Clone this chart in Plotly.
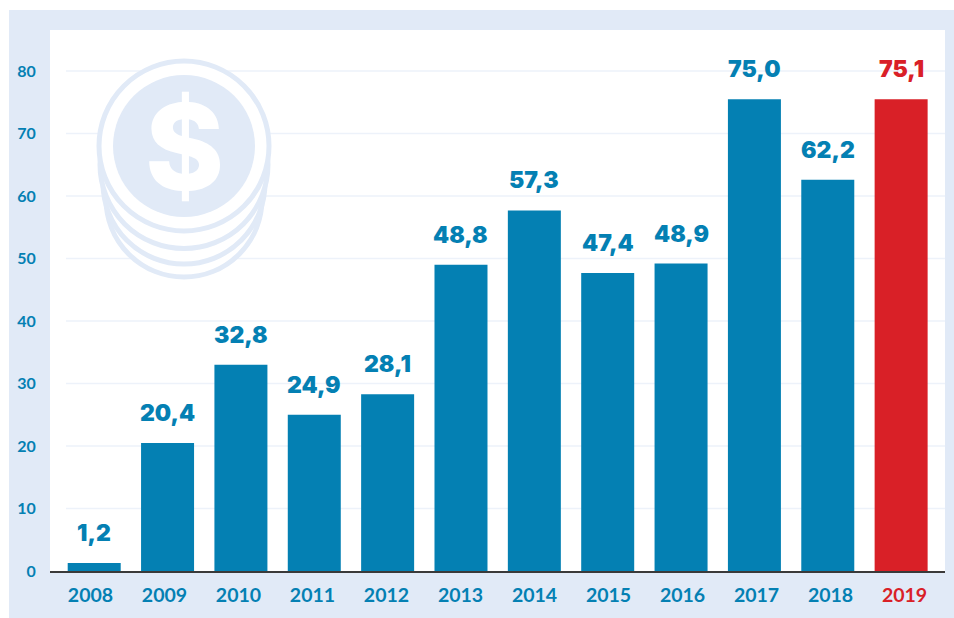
import plotly.graph_objects as go

years = ["2008","2009","2010","2011","2012","2013","2014","2015","2016","2017","2018","2019"]
bar_heights = [1.28,20.5,33.0,25.0,28.3,49.0,57.7,47.7,49.2,75.5,62.6,75.5]
value_labels = ["1,2","20,4","32,8","24,9","28,1","48,8","57,3","47,4","48,9","75,0","62,2","75,1"]
y_ticks = [0,10,20,30,40,50,60,70,80]

BLUE = "#0480b3"
RED = "#d92027"
FRAME = "#e1eaf7"
GRID = "#edf2fa"
W, H = 954, 618
L, R, T, B = 50, 945, 30, 571
colors = [RED if y == "2019" else BLUE for y in years]

def px(x): return (x - L) / (R - L)
def py(y): return (B - y) / (B - T)

shapes = [
    dict(type="rect", xref="paper", yref="paper", x0=px(9), x1=px(W), y0=py(H), y1=py(10),
         fillcolor=FRAME, line_width=0, layer="below"),
    dict(type="rect", xref="paper", yref="paper", x0=0, x1=1, y0=0, y1=1,
         fillcolor="white", line_width=0, layer="below"),
]
for t in y_ticks[1:]:
    shapes.append(dict(type="line", xref="paper", yref="y", x0=px(66), x1=1, y0=t, y1=t,
                       line=dict(color=GRID, width=1.5), layer="below"))

def circle(cx, cy, r, fill, stroke=None, sw=0):
    return dict(type="circle", xref="paper", yref="paper",
                x0=px(cx-r), x1=px(cx+r), y0=py(cy+r), y1=py(cy-r),
                fillcolor=fill, line=dict(color=stroke or fill, width=sw), layer="below")

for cy, r in [(199, 78), (183, 81), (164.5, 84), (146, 85)]:
    shapes.append(circle(184, cy, r, "white", FRAME, 5))
shapes.append(circle(184, 146, 71, FRAME))

annotations = [dict(x=px(184), y=py(146), xref="paper", yref="paper", text="$", showarrow=False,
                    font=dict(family="Inter", size=120, color="white", weight=800),
                    xanchor="center", yanchor="middle")]
for i, (h, lab, c) in enumerate(zip(bar_heights, value_labels, colors)):
    annotations.append(dict(x=i, y=h, xref="x", yref="y", text=lab, showarrow=False,
                            yshift=30, yanchor="middle", xanchor="center",
                            font=dict(family="Inter", size=23, color=c, weight=900)))

ticktext = [f'<span style="color:{RED}">{y}</span>' if y == "2019" else y for y in years]

fig = go.Figure()
fig.add_trace(go.Bar(x=list(range(len(years))), y=bar_heights, marker=dict(color=colors, line_width=0),
                     width=0.7225, hoverinfo="skip"))
fig.add_trace(go.Scatter(x=list(range(len(years))), y=bar_heights, xaxis="x2", mode="markers",
                         marker=dict(opacity=0), hoverinfo="skip"))
fig.update_layout(
    width=W, height=H, showlegend=False,
    margin=dict(l=L, r=W-R, t=T, b=H-B, pad=0),
    paper_bgcolor="white", plot_bgcolor="rgba(0,0,0,0)",
    shapes=shapes, annotations=annotations,
    font=dict(family="Lato", size=18, color=BLUE),
    xaxis=dict(range=[-0.6026, 11.598], showticklabels=False, ticks="",
               showgrid=False, zeroline=False, showline=True, linecolor="#3a3a3a", linewidth=2),
    xaxis2=dict(overlaying="x", side="bottom", anchor="y", range=[-0.547, 11.547], tickmode="array",
                tickvals=list(range(len(years))), ticktext=ticktext,
                showgrid=False, zeroline=False, showline=False,
                ticks="outside", ticklen=7, tickcolor="rgba(0,0,0,0)",
                tickfont=dict(family="Lato", size=19.5, color=BLUE, weight=700)),
    yaxis=dict(range=[0, (B-T)/6.25], tickmode="array", tickvals=y_ticks, showgrid=False, zeroline=False,
               showline=False, ticks="outside", ticklen=10, tickcolor="rgba(0,0,0,0)",
               tickfont=dict(family="Lato", size=16, color=BLUE, weight=700)),
)
fig.write_html("out.html", config=dict(displayModeBar=False),
               post_script="document.body.style.margin='0';")
